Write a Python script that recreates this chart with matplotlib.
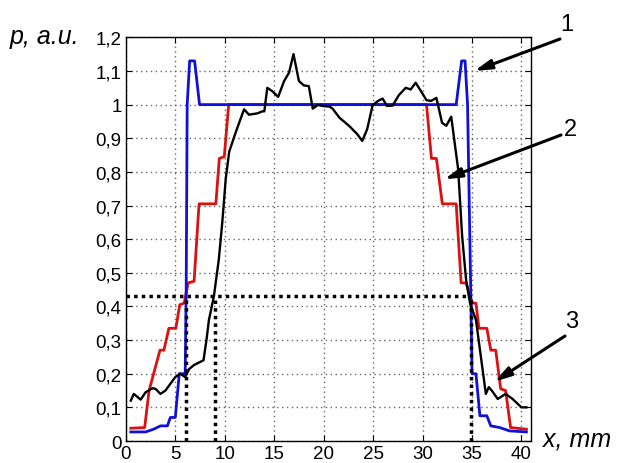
import matplotlib
matplotlib.use("Agg")
import matplotlib.pyplot as plt

plt.rcParams['font.family'] = ['Liberation Sans', 'DejaVu Sans']

# Curve 1 (blue)
blue_x = [0.5, 2.0, 2.8, 3.5, 4.2, 4.5, 5.0, 5.4, 6.0, 6.1, 6.2, 6.45, 6.95, 7.45,
          33.4, 33.95, 34.3, 34.55, 34.9, 35.0, 35.4, 35.8, 36.5, 36.9, 37.8, 38.8, 40.5]
blue_y = [0.027, 0.027, 0.035, 0.045, 0.045, 0.07, 0.07, 0.2, 0.2, 0.45, 1.0, 1.13, 1.13, 1.0,
          1.0, 1.13, 1.13, 1.0, 0.40, 0.2, 0.2, 0.075, 0.075, 0.045, 0.04, 0.03, 0.027]

# Curve 2 (red)
red_x = [0.5, 1.9, 2.35, 3.45, 3.85, 4.35, 5.05, 5.45, 5.9, 6.3, 6.9, 7.4, 9.1, 9.45, 9.95, 10.4,
         30.4, 30.9, 31.4, 32.0, 33.4, 33.9, 34.4, 35.0, 35.4, 35.7, 36.5, 36.9, 37.4, 37.9, 38.4, 38.9, 40.5]
red_y = [0.038, 0.04, 0.15, 0.27, 0.27, 0.335, 0.335, 0.405, 0.41, 0.47, 0.475, 0.705, 0.705, 0.84, 0.845, 1.0,
         1.0, 0.84, 0.84, 0.705, 0.705, 0.47, 0.47, 0.41, 0.41, 0.335, 0.335, 0.27, 0.27, 0.155, 0.15, 0.04, 0.035]

# Curve 3 (black, measured)
black_x = [0.5, 0.8, 1.5, 2.0, 2.7, 3.0, 3.5, 4.0, 5.0, 5.5, 6.0, 6.4, 6.9, 7.85, 8.15, 8.4,
           8.9, 9.4, 9.75, 10.1, 10.45, 11.1, 11.95, 12.45, 13.3, 13.8, 14.0, 14.3, 14.8, 15.4,
           16.0, 16.5, 16.95, 17.5, 18.0, 18.5, 18.9, 19.4, 19.9, 20.6, 20.9, 21.6, 22.6, 23.4,
           23.9, 24.4, 24.95, 25.45, 25.96, 26.4, 26.97, 27.6, 28.3, 28.8, 29.3, 29.8, 30.4,
           30.85, 31.4, 31.97, 32.4, 32.9, 33.2, 33.6, 34.0, 34.4, 34.8, 35.4, 35.9, 36.4, 36.7,
           37.0, 37.6, 38.4, 39.1, 40.0, 40.5]
black_y = [0.12, 0.14, 0.123, 0.145, 0.157, 0.155, 0.14, 0.15, 0.19, 0.2, 0.19, 0.214, 0.226, 0.24, 0.30, 0.36,
           0.43, 0.54, 0.65, 0.78, 0.86, 0.917, 0.986, 0.97, 0.974, 0.98, 0.98, 1.05, 1.04, 1.023,
           1.07, 1.095, 1.15, 1.07, 1.057, 1.055, 0.988, 0.999, 0.996, 0.994, 0.988, 0.961, 0.936, 0.912,
           0.892, 0.927, 0.998, 1.01, 1.018, 0.996, 0.997, 1.028, 1.05, 1.045, 1.065, 1.042, 1.013,
           1.011, 1.02, 0.946, 0.937, 0.964, 0.897, 0.808, 0.61, 0.48, 0.41, 0.36, 0.25, 0.14, 0.16,
           0.15, 0.125, 0.14, 0.125, 0.10, 0.10]

# Reference level and crossing positions
level = 0.43
cross_x = [6.1, 9.0, 34.9]

x_ticks = [0, 5, 10, 15, 20, 25, 30, 35, 40]
y_ticks = [0, 0.1, 0.2, 0.3, 0.4, 0.5, 0.6, 0.7, 0.8, 0.9, 1.0, 1.1, 1.2]
y_labels = ['0', '0,1', '0,2', '0,3', '0,4', '0,5', '0,6', '0,7', '0,8', '0,9', '1', '1,1', '1,2']

fig = plt.figure(figsize=(6.2, 4.64), dpi=100)
ax = fig.add_axes([0.203, 0.0474, 0.654, 0.870])

ax.plot(red_x, red_y, color='#dd1010', lw=2.0, zorder=3)
ax.plot(blue_x, blue_y, color='#1010d8', lw=2.0, zorder=4)
ax.plot(black_x, black_y, color='black', lw=1.7, zorder=5)

# dotted reference lines
ax.plot([0, cross_x[2]], [level, level], color='black', lw=2.5, ls=(0, (1, 1.2)), zorder=6)
for cx in cross_x:
    ax.plot([cx, cx], [0, level], color='black', lw=2.5, ls=(0, (1, 1.2)), zorder=6)

ax.set_xlim(0, 41)
ax.set_ylim(0, 1.2)
ax.set_xticks(x_ticks)
ax.set_xticklabels([str(v) for v in x_ticks])
ax.set_yticks(y_ticks)
ax.set_yticklabels(y_labels)
ax.grid(True, color='0.4', ls=(0, (1, 2.5)), lw=1.0)
ax.tick_params(direction='in', length=4, top=True, right=True, labelsize=13.5, pad=3)
for s in ax.spines.values():
    s.set_linewidth(1.0)

fig.text(10 / 620, 1 - 37 / 464, 'p, a.u.', fontsize=18, style='italic', ha='left', va='center')
fig.text(543 / 620, 1 - 440 / 464, 'x, mm', fontsize=18, style='italic', ha='left', va='center')

# numbered arrows
labels = ['1', '2', '3']
label_pos = [(567, 25), (570, 130), (572, 322)]
tails = [(560, 40), (561, 136), (565, 337)]
tips = [(35.24, 1.10), (32.2, 0.778), (37.27, 0.176)]
for lab, lp, tl, tp in zip(labels, label_pos, tails, tips):
    fig.text(lp[0] / 620, 1 - lp[1] / 464, lab, fontsize=17, ha='center', va='center')
    ax.annotate('', xy=tp, xycoords='data',
                xytext=(tl[0], 464 - tl[1]), textcoords='figure pixels',
                arrowprops=dict(arrowstyle='-|>,head_length=1.0,head_width=0.28',
                                color='black', lw=2.2, shrinkA=0, shrinkB=0),
                annotation_clip=False, zorder=10)

fig.savefig('out.png', dpi=100)
